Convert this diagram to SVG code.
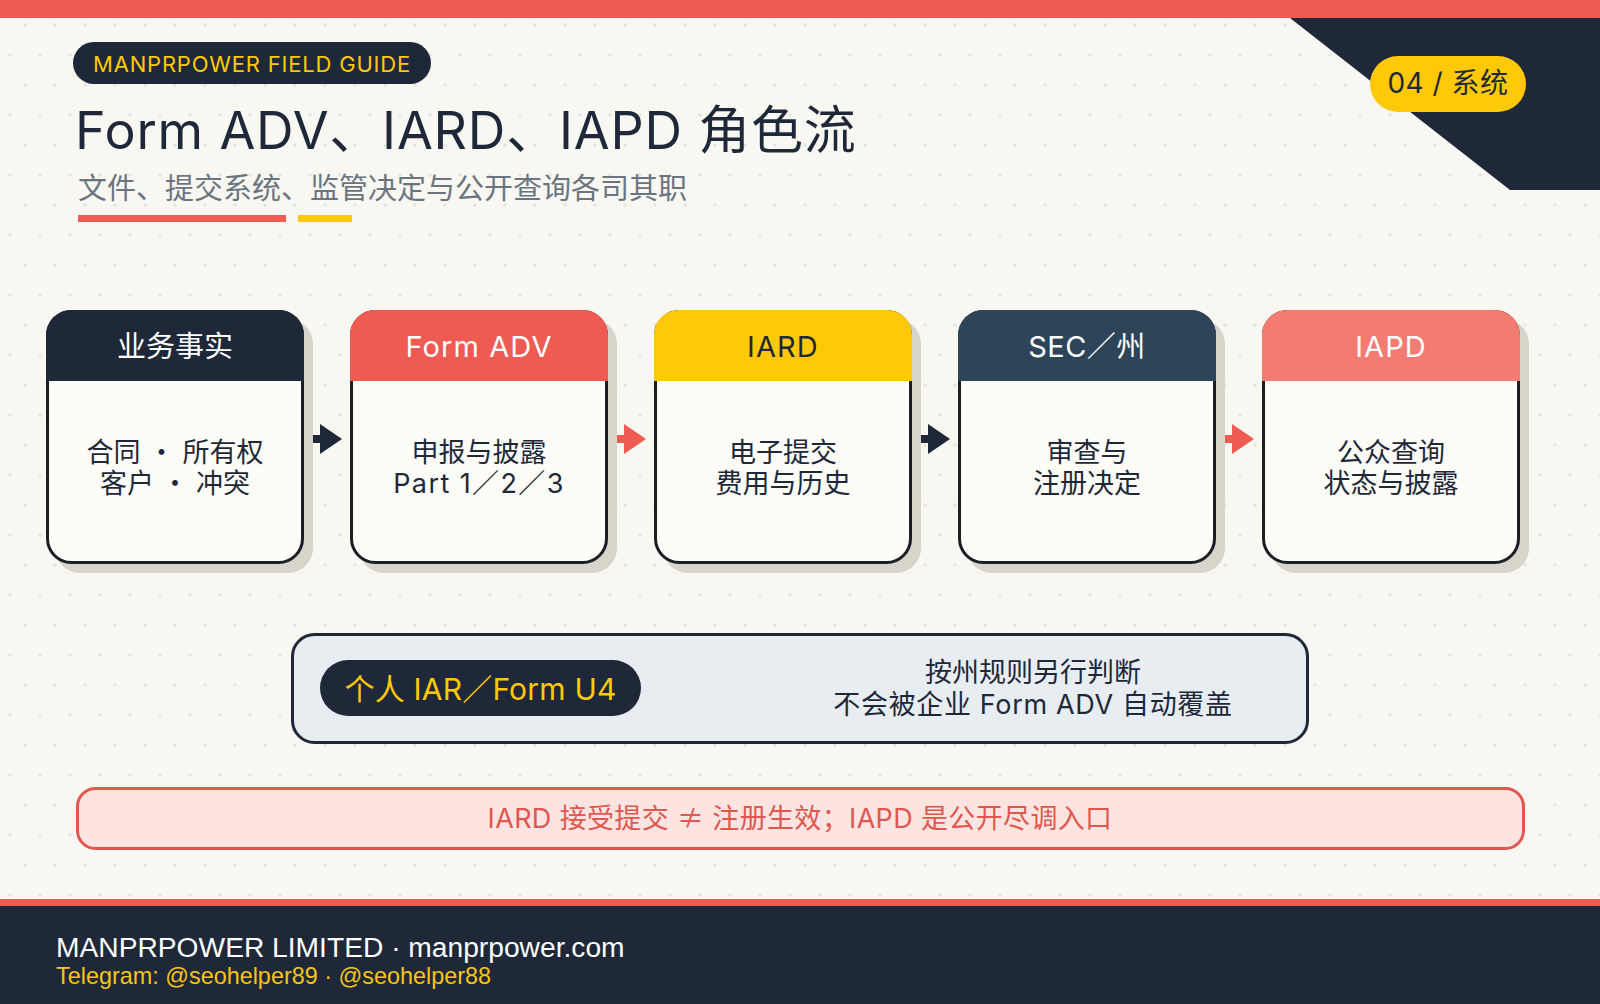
<svg xmlns="http://www.w3.org/2000/svg" width="1600" height="1004" viewBox="0 0 1600 1004">
<defs>
<pattern id="dots" patternUnits="userSpaceOnUse" width="30" height="60">
<path d="M23,25 H27 M25,23 V27 M8,55 H12 M10,53 V57" stroke="#E1DFD6" stroke-width="1"/>
</pattern>
<marker id="ahDark" markerUnits="userSpaceOnUse" markerWidth="24" markerHeight="32" refX="2" refY="15" orient="auto">
<path d="M0,0 L22,15 L0,30 Z" fill="#1E2838"/>
</marker>
<marker id="ahRed" markerUnits="userSpaceOnUse" markerWidth="24" markerHeight="32" refX="2" refY="15" orient="auto">
<path d="M0,0 L22,15 L0,30 Z" fill="#EF5A52"/>
</marker>
</defs>
<style>
.cjk{font-family:Inter,"Noto Sans CJK SC","Noto Sans",sans-serif;}
.cjkonly{font-family:"Noto Sans CJK SC","Noto Sans",sans-serif;}
.lat{font-family:"Liberation Sans",Arial,sans-serif;}
.shadow{fill:#D9D4C9;}
.body{fill:#FDFCF7;stroke:#1B1F24;stroke-width:3;}
.htext{font-size:29px;text-anchor:middle;fill:#FFFFFF;}
.wide{letter-spacing:1.1px;}
.btext{font-size:27px;text-anchor:middle;fill:#1E2838;}
.conn{stroke-width:8;fill:none;}
</style>
<rect x="0" y="0" width="1600" height="1004" fill="#F8F7F1"/>
<rect x="0" y="0" width="1600" height="1004" fill="url(#dots)"/>
<rect x="0" y="0" width="1600" height="18" fill="#EF5A52"/>
<polygon points="1290,18 1600,18 1600,190 1510,190" fill="#1E2838"/>
<g id="badge">
<rect x="1370" y="56" width="156" height="56" rx="28" fill="#FFC907"/>
<text x="1448" y="93" class="cjk" font-size="28" text-anchor="middle" letter-spacing="0.5" fill="#1E2838">04 / 系统</text>
</g>
<g id="header">
<rect x="73" y="42" width="358" height="42" rx="21" fill="#1E2838"/>
<text x="252" y="72" class="cjk" font-size="22" text-anchor="middle" letter-spacing="0.8" fill="#FFC907">MANPRPOWER FIELD GUIDE</text>
<text x="75" y="149" class="cjk" font-size="52" letter-spacing="0.8" fill="#1E2838">Form ADV、IARD、IAPD 角色流</text>
<text x="78" y="199" class="cjk" font-size="29" fill="#6B7580">文件、提交系统、监管决定与公开查询各司其职</text>
<rect x="78" y="215" width="208" height="7" fill="#EF5A52"/>
<rect x="298" y="215" width="54" height="7" fill="#FFC907"/>
</g>
<g id="connectors">
<line x1="312" y1="439" x2="322" y2="439" class="conn" stroke="#1E2838" marker-end="url(#ahDark)"/>
<line x1="616" y1="439" x2="626" y2="439" class="conn" stroke="#EF5A52" marker-end="url(#ahRed)"/>
<line x1="920" y1="439" x2="930" y2="439" class="conn" stroke="#1E2838" marker-end="url(#ahDark)"/>
<line x1="1224" y1="439" x2="1234" y2="439" class="conn" stroke="#EF5A52" marker-end="url(#ahRed)"/>
<line x1="680" y1="688" x2="770" y2="688" stroke="#6B7780" stroke-width="4"/>
</g>
<g id="node-business" transform="translate(46,310)">
<rect x="9" y="9" width="258" height="254" rx="25" class="shadow"/>
<rect x="1.5" y="1.5" width="255" height="251" rx="24" class="body"/>
<path d="M0,71 V25 A25,25 0 0 1 25,0 H233 A25,25 0 0 1 258,25 V71 Z" fill="#1E2838"/>
<text x="129" y="47" class="cjk htext">业务事实</text>
<text x="129" y="152" class="cjk btext">合同 <tspan class="cjkonly">·</tspan> 所有权</text>
<text x="129" y="183" class="cjk btext">客户 <tspan class="cjkonly">·</tspan> 冲突</text>
</g>
<g id="node-formadv" transform="translate(350,310)">
<rect x="9" y="9" width="258" height="254" rx="25" class="shadow"/>
<rect x="1.5" y="1.5" width="255" height="251" rx="24" class="body"/>
<path d="M0,71 V25 A25,25 0 0 1 25,0 H233 A25,25 0 0 1 258,25 V71 Z" fill="#EF5A52"/>
<text x="129" y="47" class="cjk htext wide">Form ADV</text>
<text x="129" y="152" class="cjk btext">申报与披露</text>
<text x="129" y="183" class="cjk btext" letter-spacing="1.4">Part 1／2／3</text>
</g>
<g id="node-iard" transform="translate(654,310)">
<rect x="9" y="9" width="258" height="254" rx="25" class="shadow"/>
<rect x="1.5" y="1.5" width="255" height="251" rx="24" class="body"/>
<path d="M0,71 V25 A25,25 0 0 1 25,0 H233 A25,25 0 0 1 258,25 V71 Z" fill="#FFC907"/>
<text x="129" y="47" class="cjk htext wide" style="fill:#1E2838">IARD</text>
<text x="129" y="152" class="cjk btext">电子提交</text>
<text x="129" y="183" class="cjk btext">费用与历史</text>
</g>
<g id="node-sec" transform="translate(958,310)">
<rect x="9" y="9" width="258" height="254" rx="25" class="shadow"/>
<rect x="1.5" y="1.5" width="255" height="251" rx="24" class="body"/>
<path d="M0,71 V25 A25,25 0 0 1 25,0 H233 A25,25 0 0 1 258,25 V71 Z" fill="#2E4559"/>
<text x="129" y="47" class="cjk htext" letter-spacing="0.5">SEC／州</text>
<text x="129" y="152" class="cjk btext">审查与</text>
<text x="129" y="183" class="cjk btext">注册决定</text>
</g>
<g id="node-iapd" transform="translate(1262,310)">
<rect x="9" y="9" width="258" height="254" rx="25" class="shadow"/>
<rect x="1.5" y="1.5" width="255" height="251" rx="24" class="body"/>
<path d="M0,71 V25 A25,25 0 0 1 25,0 H233 A25,25 0 0 1 258,25 V71 Z" fill="#F27B72"/>
<text x="129" y="47" class="cjk htext wide">IAPD</text>
<text x="129" y="152" class="cjk btext">公众查询</text>
<text x="129" y="183" class="cjk btext">状态与披露</text>
</g>
<g id="node-iar-panel">
<rect x="292.5" y="634.5" width="1015" height="108" rx="22" fill="#E8EDF2" stroke="#1E2838" stroke-width="3"/>
</g>
<g id="node-iar">
<rect x="320" y="660" width="321" height="56" rx="28" fill="#1E2838"/>
<text x="480.5" y="700" class="cjk" font-size="30" text-anchor="middle" letter-spacing="0.2" fill="#FFC907">个人 IAR／Form U4</text>
</g>
<g id="node-state-rule">
<text x="1033" y="682" class="cjk" font-size="27" text-anchor="middle" fill="#1E2838">按州规则另行判断</text>
<text x="1033" y="714" class="cjk" font-size="27" text-anchor="middle" letter-spacing="0.65" fill="#1E2838">不会被企业 Form ADV 自动覆盖</text>
</g>
<g id="note">
<rect x="77.5" y="788.5" width="1446" height="60" rx="18" fill="#FDE4E1" stroke="#E0574F" stroke-width="3"/>
<text x="800" y="828" class="cjk" font-size="27" text-anchor="middle" letter-spacing="0.35" fill="#E0574F">IARD 接受提交 <tspan class="cjkonly">≠</tspan> 注册生效；IAPD 是公开尽调入口</text>
</g>
<g id="footer">
<rect x="0" y="899" width="1600" height="7" fill="#EF5A52"/>
<rect x="0" y="906" width="1600" height="98" fill="#1E2838"/>
<text x="56" y="957" class="lat" font-size="28.2" fill="#FFFFFF">MANPRPOWER LIMITED · manprpower.com</text>
<text x="56" y="984" class="lat" font-size="23.4" fill="#F5C518">Telegram: @seohelper89 · @seohelper88</text>
</g>
</svg>
